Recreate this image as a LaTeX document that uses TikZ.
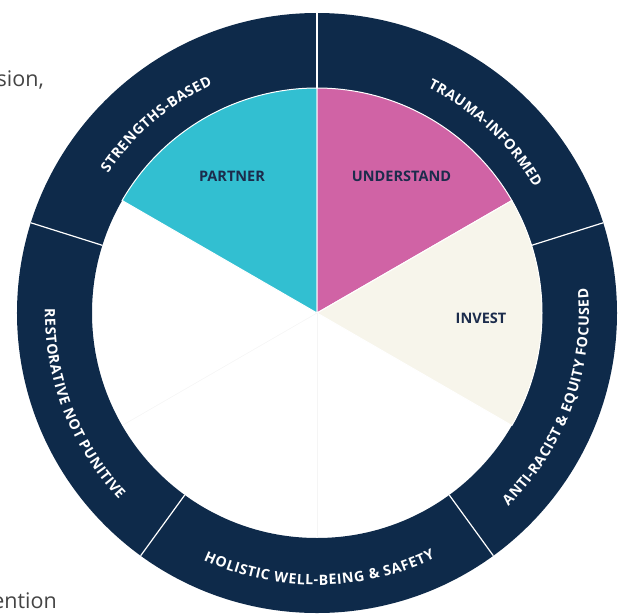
\documentclass[tikz,border=0pt]{standalone}
\usepackage{fontspec}
\setsansfont{Open Sans}
\newfontfamily\bodyfont{Open Sans}
\usetikzlibrary{decorations.text}

\definecolor{ringblue}{HTML}{0E2A4A}
\definecolor{partnercol}{HTML}{32BFD1}
\definecolor{understandcol}{HTML}{D063A5}
\definecolor{investcol}{HTML}{F7F5EB}
\definecolor{labelblue}{HTML}{1C2C4C}
\definecolor{bodygray}{HTML}{444444}
\newcommand\ringfont{\sffamily\bfseries\fontsize{14.2}{16}\selectfont}

\begin{document}
\begin{tikzpicture}[x=1pt,y=1pt,
    sector/.style={draw=white, line width=1pt},
    faint/.style={draw=black!4, line width=0.6pt},
    petal/.style={font=\sffamily\bfseries\fontsize{14.5}{16}\selectfont, text=labelblue},
    divider/.style={draw=white, line width=1.2pt},
    ringtext/.style={decorate, decoration={text effects along path, text={#1},
        text effects/.cd, text along path, fit text to path,
        every character/.style={text=white, font=\ringfont}}},
    bodytext/.style={font=\bodyfont\fontsize{21.5}{24}\selectfont, text=bodygray, inner sep=0pt}]

    \useasboundingbox (-317,-301) rectangle (306,313);
    \clip (-317,-301) rectangle (306,313);

    % Text of the page round it
    \node[bodytext, anchor=base east] (sion) at (-273,227) {sion,};
    \node[bodytext, anchor=base east] (ention) at (-260,-295) {ention};

    % Ring
    \fill[ringblue, even odd rule] (0,0) circle[radius=300pt] (0,0) circle[radius=225pt];
    \foreach \a in {90,17.5,-54,-126,162.5}
      \draw[divider] (\a:225pt) -- (\a:300pt);

    % Sectors
    \draw[sector, fill=partnercol] (0,0) -- (150:225pt) arc[start angle=150, end angle=90, radius=225pt] -- cycle;
    \draw[sector, fill=understandcol] (0,0) -- (90:225pt) arc[start angle=90, end angle=30, radius=225pt] -- cycle;
    \draw[sector, fill=investcol] (0,0) -- (30:225pt) arc[start angle=30, end angle=-30, radius=225pt] -- cycle;
    \foreach \a in {210,270}
      \draw[faint] (0,0) -- (\a:224pt); % the white sectors

    % Sector labels
    \node[petal] (partner) at (-85,137) {PARTNER};
    \node[petal] (understand) at (84.5,137) {UNDERSTAND};
    \node[petal] (invest) at (164,-5) {INVEST};

    % Ring labels
    \path[ringtext=STRENGTHS-BASED] (146.3:251pt) arc[start angle=146.3, end angle=114.6, radius=251pt];
    \path[ringtext=TRAUMA-INFORMED] (63.8:251pt) arc[start angle=63.8, end angle=30, radius=251pt];
    \path[ringtext=ANTI-RACIST {\&} EQUITY FOCUSED] (-45.3:272pt) arc[start angle=-45.3, end angle=5.2, radius=272pt];
    \path[ringtext=HOLISTIC WELL-BEING {\&} SAFETY] (-114.7:272pt) arc[start angle=-114.7, end angle=-64.3, radius=272pt];
    \path[ringtext=RESTORATIVE NOT PUNITIVE] (179.1:272pt) arc[start angle=179.1, end angle=223.3, radius=272pt];

\end{tikzpicture}
\end{document}
